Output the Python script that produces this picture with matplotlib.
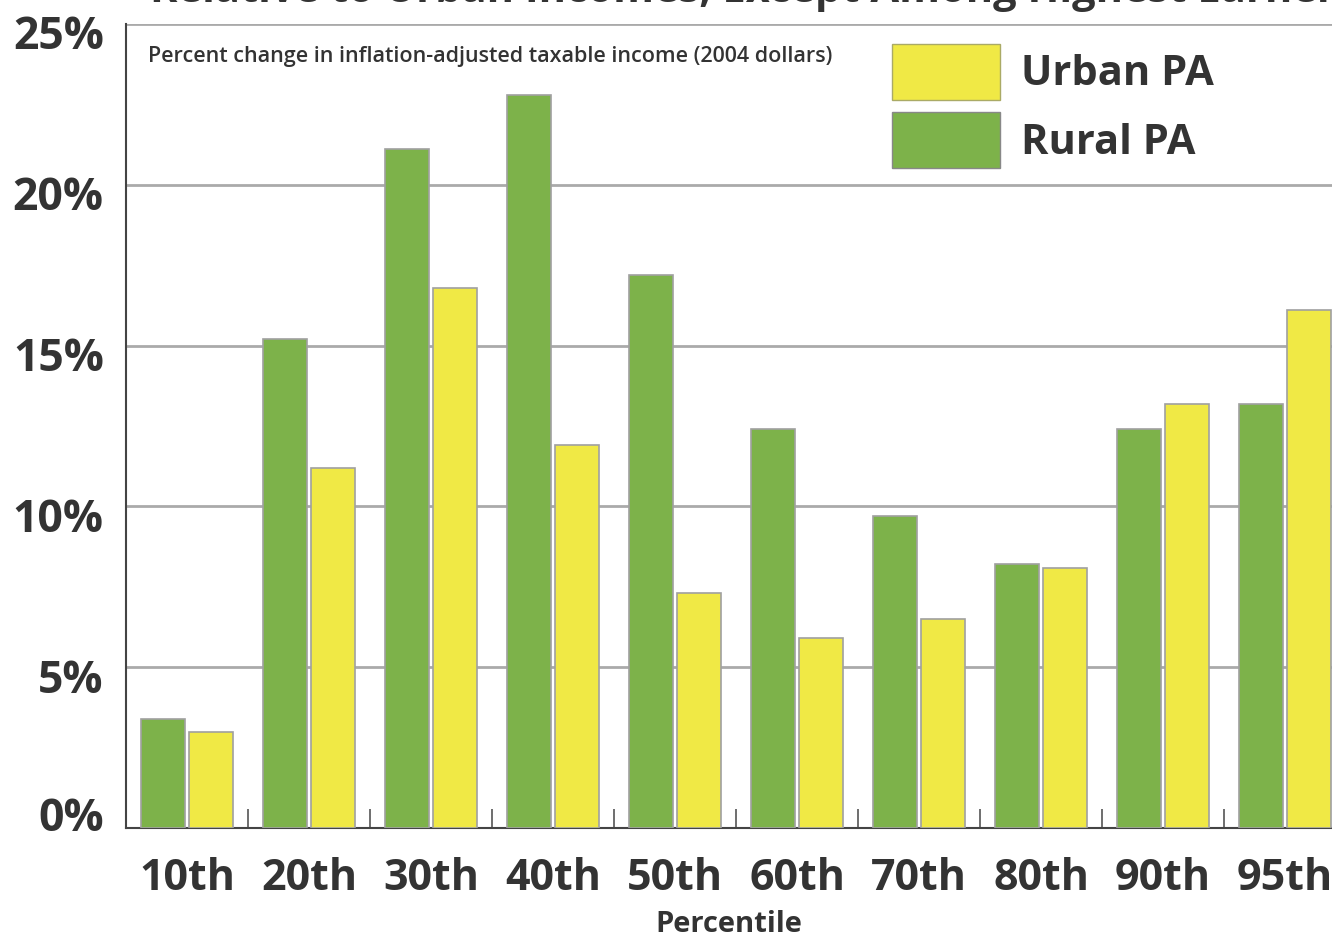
import matplotlib
matplotlib.use("Agg")
import matplotlib.pyplot as plt
from matplotlib.patches import Patch
import matplotlib.transforms as mtransforms
import numpy

percentiles = ["10th", "20th", "30th", "40th", "50th", "60th", "70th", "80th", "90th", "95th"]
rural_pa = [3.4, 15.2, 21.1, 22.8, 17.2, 12.4, 9.7, 8.2, 12.4, 13.2]
urban_pa = [3.0, 11.2, 16.8, 11.9, 7.3, 5.9, 6.5, 8.1, 13.2, 16.1]
ytick_values = [0, 5, 10, 15, 20, 25]
ytick_labels = ["0%", "5%", "10%", "15%", "20%", "25%"]

green = "#7db24a"
yellow = "#f0e945"
text_color = "#333333"

plt.rcParams['font.family'] = ['Open Sans', 'DejaVu Sans']

fig = plt.figure(figsize=(13.32, 9.4), dpi=100)
ax = fig.add_axes([0.0946, 0.1191, 0.9054, 0.8553])

x = numpy.arange(len(percentiles))
w = 0.36
ax.bar(x - 0.197, rural_pa, w, color=green, edgecolor="#a0a0a0", linewidth=1.2, zorder=3)
ax.bar(x + 0.197, urban_pa, w, color=yellow, edgecolor="#a0a0a0", linewidth=1.2, zorder=3)

ax.set_xlim(-0.5, 9.385)
ax.set_ylim(0, 25)

ax.set_yticks(ytick_values)
ax.set_yticklabels(ytick_labels)
ax.set_xticks(x)
ax.set_xticklabels(percentiles)
ax.set_xticks(x[:-1] + 0.5, minor=True)
ax.tick_params(axis="x", which="major", length=0, pad=21, labelsize=31, labelcolor=text_color)
ax.tick_params(axis="x", which="minor", direction="in", length=14, width=1.2, color="#555555")
ax.tick_params(axis="y", length=0, pad=16, labelsize=32, labelcolor=text_color)
for lab in ax.get_xticklabels() + ax.get_yticklabels():
    lab.set_fontweight("bold")

# the y labels sit a little below their gridlines, except 0%
for i, lab in enumerate(ax.get_yticklabels()):
    dy = 10 / 72.0 if i == 0 else -6 / 72.0
    lab.set_transform(lab.get_transform() + mtransforms.ScaledTranslation(0, dy, fig.dpi_scale_trans))

ax.yaxis.grid(True, color="#aaaaaa", linewidth=2, zorder=0)
ax.set_axisbelow(True)
for s in ["top", "right"]:
    ax.spines[s].set_visible(False)
ax.spines["left"].set_color("#444444")
ax.spines["left"].set_linewidth(1.5)
ax.spines["bottom"].set_color("#444444")
ax.spines["bottom"].set_linewidth(1.5)

ax.set_xlabel("Percentile", fontsize=21, fontweight="bold", color=text_color, labelpad=7)

ax.text(148 / 1332, 0.9745 - 33 / 940, "Percent change in inflation-adjusted taxable income (2004 dollars)",
        transform=fig.transFigure, fontsize=15.5, fontweight="semibold", color=text_color, va="center")

handles = [Patch(facecolor=yellow, edgecolor="#aaaa66", label="Urban PA"),
           Patch(facecolor=green, edgecolor="#888888", label="Rural PA")]
leg = ax.legend(handles=handles, loc="upper left", bbox_to_anchor=(0.621, 0.996), frameon=False,
                prop={"size": 30, "weight": "bold"}, handlelength=2.6, handleheight=1.68,
                handletextpad=0.5, labelspacing=0.3, borderaxespad=0)
for t in leg.get_texts():
    t.set_color(text_color)

fig.text(150 / 1332, 1 - 2 / 940, "Relative to Urban Incomes, Except Among Highest Earners",
         fontsize=30, fontweight="bold", color=text_color, va="baseline", ha="left")

fig.savefig("out.png", dpi=100)
